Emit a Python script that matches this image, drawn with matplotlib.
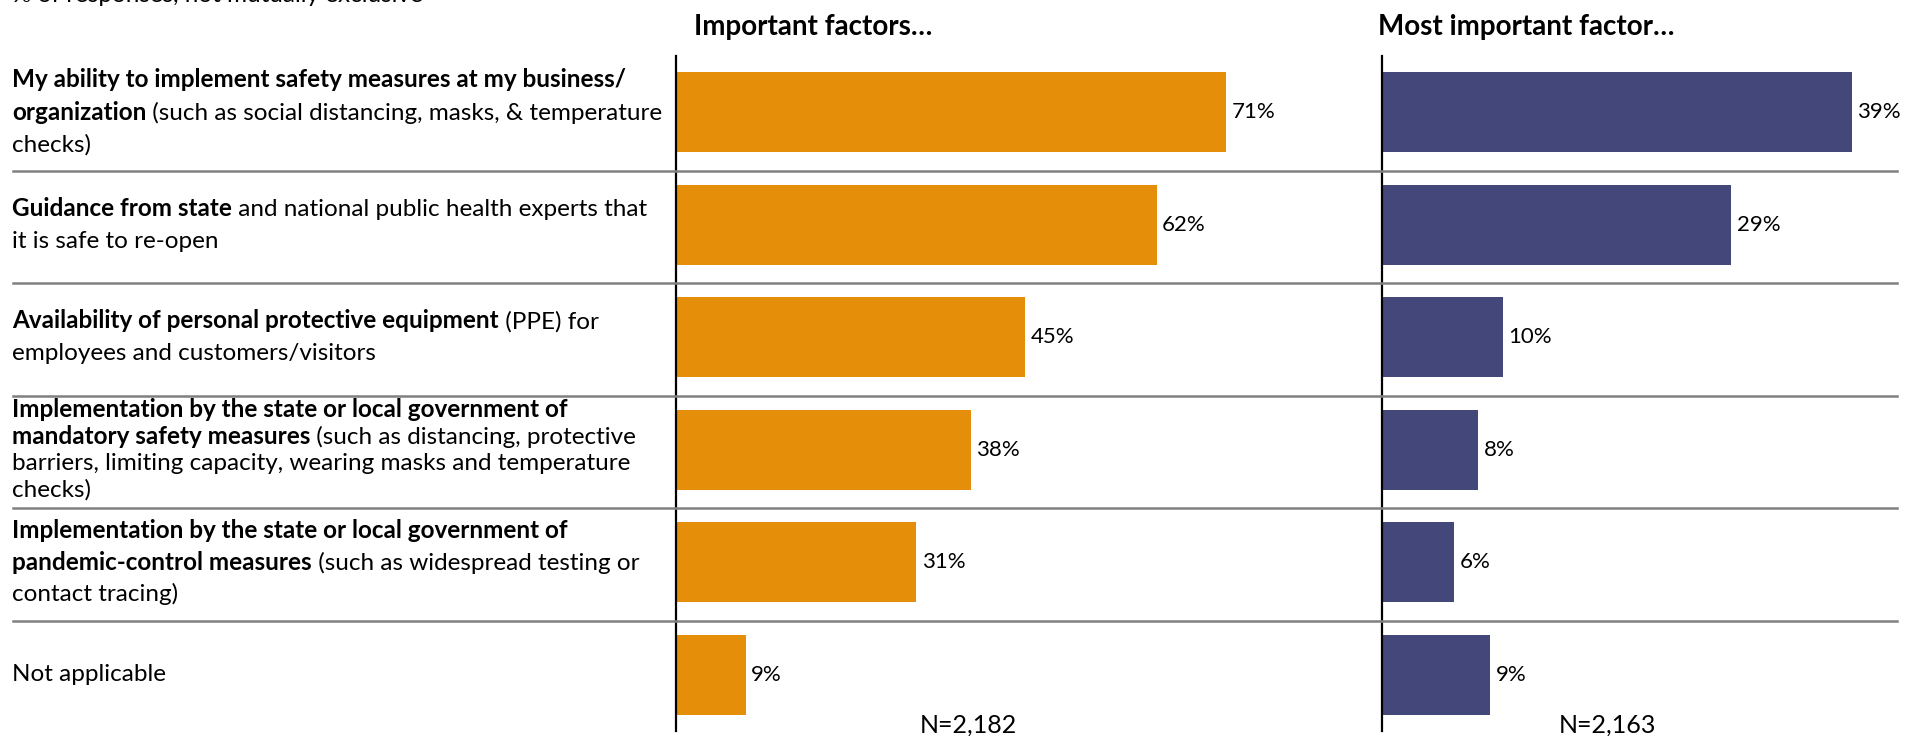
import matplotlib
matplotlib.use("Agg")
import matplotlib.pyplot as plt
from matplotlib.transforms import blended_transform_factory

# ---------------- data ----------------
categories = [
    "My ability to implement safety measures at my business/organization",
    "Guidance from state",
    "Availability of personal protective equipment",
    "Implementation by the state or local government of mandatory safety measures",
    "Implementation by the state or local government of pandemic-control measures",
    "Not applicable",
]
important = [71, 62, 45, 38, 31, 9]
most_important = [39, 29, 10, 8, 6, 9]
n_important = "N=2,182"
n_most = "N=2,163"
title_left = "Important factors\u2026"
title_right = "Most important factor\u2026"
subtitle = "% of responses, not mutually exclusive"

# label lines: list of lines, each a list of (text, bold)
label_lines = [
    [[("My ability to implement safety measures at my business/", True)],
     [("organization", True), (" (such as social distancing, masks, & temperature", False)],
     [("checks)", False)]],
    [[("Guidance from state", True), (" and national public health experts that", False)],
     [("it is safe to re-open", False)]],
    [[("Availability of personal protective equipment", True), (" (PPE) for", False)],
     [("employees and customers/visitors", False)]],
    [[("Implementation by the state or local government of", True)],
     [("mandatory safety measures", True), (" (such as distancing, protective", False)],
     [("barriers, limiting capacity, wearing masks and temperature", False)],
     [("checks)", False)]],
    [[("Implementation by the state or local government of", True)],
     [("pandemic-control measures", True), (" (such as widespread testing or", False)],
     [("contact tracing)", False)]],
    [[("Not applicable", False)]],
]
line_spacing_px = [33, 33, 33, 27, 32, 33]

# ---------------- style ----------------
ORANGE = "#E58E0A"
NAVY = "#434779"
GREY = "#808080"
FONT = "Lato"
FS = 17.5
FS_VAL = 16
W, H = 1916, 736

plt.rcParams["font.family"] = [FONT, "DejaVu Sans"]

fig = plt.figure(figsize=(W / 100, H / 100), dpi=100)


def fx(px):
    return px / W


def fy(py_top):
    return 1 - py_top / H


ax_top, ax_bot = 56, 731
ax1 = fig.add_axes([fx(676), fy(ax_bot), fx(1300 - 676), (ax_bot - ax_top) / H])
ax2 = fig.add_axes([fx(1382), fy(ax_bot), fx(1916 - 1382), (ax_bot - ax_top) / H])

ypos = list(range(len(categories)))
for ax, vals, col, xmax in [(ax1, important, ORANGE, 624 / 7.75), (ax2, most_important, NAVY, 534 / 12.05)]:
    bars = ax.barh(ypos, vals, height=0.71, color=col, zorder=2)
    ax.set_xlim(0, xmax)
    ax.set_ylim(len(categories) - 0.5, -0.5)
    for s in ["top", "right", "bottom"]:
        ax.spines[s].set_visible(False)
    ax.spines["left"].set_linewidth(1.6)
    ax.spines["left"].set_color("black")
    ax.set_xticks([])
    ax.set_yticks([])
    ax.patch.set_alpha(0)
    for b, v in zip(bars, vals):
        ax.annotate(f"{v}%", xy=(b.get_width(), b.get_y() + b.get_height() / 2),
                    xytext=(4, 0), textcoords="offset points",
                    ha="left", va="center", fontsize=FS_VAL, color="black")

# separators across the figure
tr = blended_transform_factory(fig.transFigure, ax1.transData)
for i in range(len(categories) - 1):
    fig.add_artist(plt.Line2D([fx(13), fx(1897)], [i + 0.52, i + 0.52], transform=tr,
                              color=GREY, lw=1.8, zorder=1))

# category labels (mixed bold/normal)
row_h = (ax_bot - ax_top) / len(categories)
for i, lines in enumerate(label_lines):
    cy = ax_top + row_h * (i + 0.5)
    sp = line_spacing_px[i]
    n = len(lines)
    for j, segs in enumerate(lines):
        ly = cy + (j - (n - 1) / 2) * sp
        prev = None
        for text, bold in segs:
            w = "bold" if bold else "normal"
            if prev is None:
                prev = fig.text(fx(12), fy(ly), text, ha="left", va="center",
                                fontsize=FS, fontweight=w, color="black")
            else:
                prev = ax1.annotate(text, xy=(1, 0), xycoords=prev, ha="left", va="bottom",
                                    fontsize=FS, fontweight=w, color="black",
                                    annotation_clip=False)

# titles
fig.text(fx(694), fy(27), title_left, ha="left", va="center", fontsize=20, fontweight="bold")
fig.text(fx(1378), fy(27), title_right, ha="left", va="center", fontsize=20, fontweight="bold")
fig.text(fx(12), fy(-5), subtitle, ha="left", va="center", fontsize=FS)

# N labels
fig.text(fx(968), fy(725), n_important, ha="center", va="center", fontsize=18)
fig.text(fx(1607), fy(725), n_most, ha="center", va="center", fontsize=18)

fig.savefig("out.png", dpi=100)
